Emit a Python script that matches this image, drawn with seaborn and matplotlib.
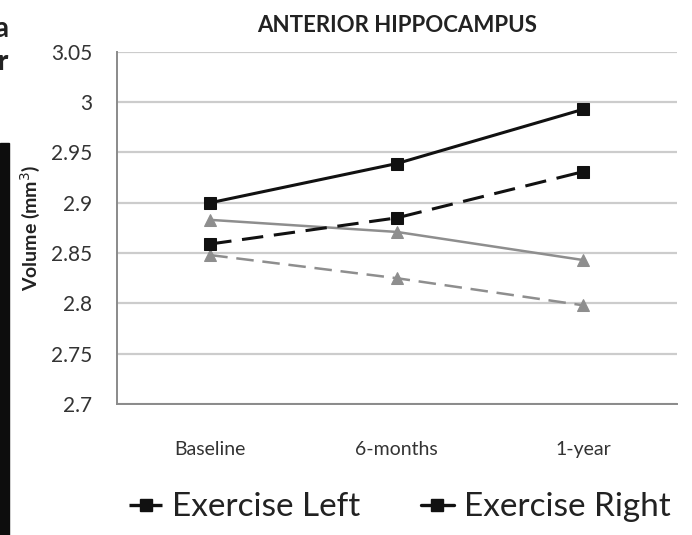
import matplotlib
matplotlib.use("Agg")
import matplotlib.pyplot as plt
from matplotlib.patches import Rectangle
from matplotlib.lines import Line2D
import seaborn as sns

# ---- data ------------------------------------------------------------
timepoints = ["Baseline", "6-months", "1-year"]
exercise_right = [2.900, 2.939, 2.993]
exercise_left = [2.859, 2.885, 2.931]
control_right = [2.883, 2.871, 2.843]
control_left = [2.848, 2.825, 2.798]
y_ticks = [2.7, 2.75, 2.8, 2.85, 2.9, 2.95, 3.0, 3.05]
y_tick_labels = ["2.7", "2.75", "2.8", "2.85", "2.9", "2.95", "3", "3.05"]

BLACK = "#111111"
GRAY = "#8e8e8e"

sns.set_style("white")
plt.rcParams["font.family"] = ["Lato", "DejaVu Sans"]

fig = plt.figure(figsize=(6.92, 5.35), dpi=100)
ax = fig.add_axes([0.169, 0.245, 0.809, 0.658])

# gray (control) series first so black sits on top
sns.lineplot(x=timepoints, y=control_right, ax=ax, color=GRAY, lw=1.8,
             marker="^", markersize=8, markeredgecolor=GRAY, sort=False)
sns.lineplot(x=timepoints, y=control_left, ax=ax, color=GRAY, lw=1.8,
             marker="^", markersize=8, markeredgecolor=GRAY, sort=False,
             linestyle=(0, (7, 3.5)))
sns.lineplot(x=timepoints, y=exercise_left, ax=ax, color=BLACK, lw=2.2,
             marker="s", markersize=8, markeredgecolor=BLACK, sort=False,
             linestyle=(0, (7, 3.5)))
sns.lineplot(x=timepoints, y=exercise_right, ax=ax, color=BLACK, lw=2.2,
             marker="s", markersize=8, markeredgecolor=BLACK, sort=False)

ax.set_xlim(-0.5, 2.5)
ax.set_ylim(2.7, 3.05)
ax.set_yticks(y_ticks)
ax.set_yticklabels(y_tick_labels)
ax.yaxis.grid(True, color="#cccccc", lw=1.6)
ax.xaxis.grid(False)

for side in ["top", "right"]:
    ax.spines[side].set_visible(False)
for side in ["left", "bottom"]:
    ax.spines[side].set_color("#8a8a8a")
    ax.spines[side].set_linewidth(1.4)

ax.tick_params(axis="y", length=6, width=1.2, color="#8a8a8a",
               labelsize=15, labelcolor="#333333", pad=12)
ax.set_xticks([0.0, 1.0, 2.0])
ax.set_xticklabels(timepoints)
ax.set_xticks([-0.5, 0.5, 1.5, 2.5], minor=True)
ax.tick_params(axis="x", which="major", length=0, labelsize=14,
               labelcolor="#333333", pad=27)
ax.tick_params(axis="x", which="minor", length=5, width=1.2,
               color="#8a8a8a", direction="out")

ax.set_xlabel("")
ax.set_ylabel("Volume (mm$^3$)", fontsize=14, fontweight="bold",
              color="#222222", labelpad=6)
ax.set_title("ANTERIOR HIPPOCAMPUS", fontsize=16, fontweight="bold",
             color="#222222", pad=14)

# legend (only the two exercise entries are visible in the reference)
handles = [
    Line2D([], [], color=BLACK, lw=2.4, linestyle=(0, (5, 2)),
           marker="s", markersize=9),
    Line2D([], [], color=BLACK, lw=2.4, marker="s", markersize=9),
]
fig.legend(handles, ["Exercise Left", "Exercise Right"], loc="center",
           bbox_to_anchor=(0.578, 0.052), ncol=2, frameon=False,
           fontsize=24, handlelength=1.0, handletextpad=0.3,
           columnspacing=1.8, labelcolor="#222222")

# cropped remains of the neighbouring panel on the left edge
fig.patches.append(Rectangle((0, 0), 9 / 692, (535 - 143) / 535,
                             transform=fig.transFigure, color="#0d0d0d"))
fig.text(0.012, 0.945, "a", ha="right", va="center", fontsize=20,
         fontweight="bold", color="#222222")
fig.text(0.011, 0.885, "r", ha="right", va="center", fontsize=20,
         fontweight="bold", color="#222222")

fig.savefig("out.png", dpi=100)
